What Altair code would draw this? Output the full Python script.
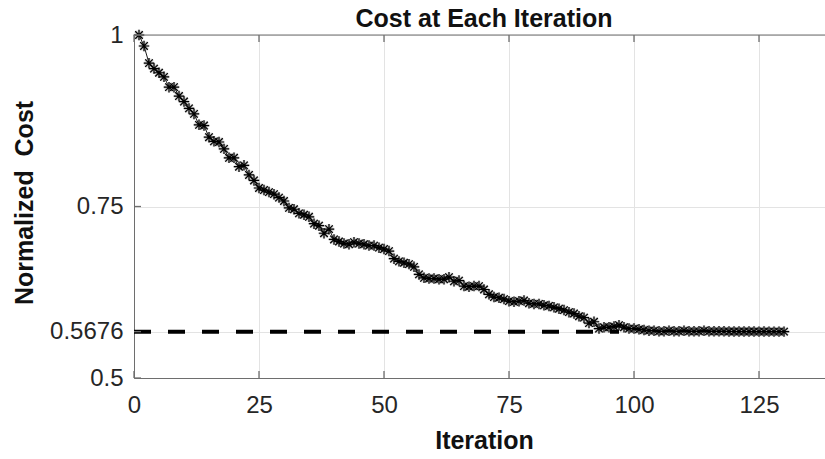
import altair as alt
import pandas as pd

# Normalized cost recorded at every iteration of the optimizer
iterations = list(range(1, 131))
cost = [
    1.000, 0.984, 0.959, 0.951, 0.945, 0.939, 0.924, 0.924, 0.911, 0.903,
    0.893, 0.885, 0.869, 0.868, 0.851, 0.845, 0.844, 0.834, 0.821, 0.821,
    0.808, 0.810, 0.796, 0.788, 0.777, 0.774, 0.771, 0.768, 0.763, 0.758,
    0.748, 0.746, 0.740, 0.738, 0.735, 0.725, 0.722, 0.711, 0.717, 0.702,
    0.699, 0.696, 0.695, 0.698, 0.696, 0.695, 0.693, 0.693, 0.690, 0.688,
    0.685, 0.674, 0.670, 0.668, 0.666, 0.662, 0.651, 0.646, 0.645, 0.645,
    0.644, 0.644, 0.647, 0.641, 0.642, 0.634, 0.633, 0.634, 0.634, 0.629,
    0.622, 0.618, 0.617, 0.615, 0.612, 0.611, 0.612, 0.613, 0.609, 0.608,
    0.608, 0.606, 0.605, 0.603, 0.601, 0.599, 0.596, 0.594, 0.590, 0.588,
    0.580, 0.582, 0.572, 0.574, 0.574, 0.575, 0.577, 0.574, 0.572, 0.572,
    0.571, 0.570, 0.569, 0.569, 0.568, 0.568, 0.569, 0.568, 0.568, 0.569,
    0.568, 0.568, 0.568, 0.569, 0.568, 0.568, 0.568, 0.568, 0.5678, 0.5678,
    0.5677, 0.5678, 0.5677, 0.5677, 0.5676, 0.5677, 0.5676, 0.5676, 0.5676, 0.5676,
]

# Final (best) cost reference line
best_cost = 0.5676
best_line_start = 0
best_line_end = 97

x_ticks = [0, 25, 50, 75, 100, 125]
y_ticks = [0.5, 0.5676, 0.75, 1.0]

chart_title = "Cost at Each Iteration"

FONT = "Liberation Sans"
AXIS_GRAY = "#6e6e6e"
GRID_GRAY = "#e3e3e3"
PLOT_W, PLOT_H = 691, 343

df = pd.DataFrame({"iteration": iterations, "cost": cost})
best_df = pd.DataFrame({"iteration": [best_line_start], "x1": [best_line_end], "cost": [best_cost]})
xt_df = pd.DataFrame({"iteration": x_ticks})
yt_df = pd.DataFrame({"cost": y_ticks})
title_df = pd.DataFrame({"label": [chart_title]})

x_scale = alt.Scale(domain=[0, 138.2], nice=False, zero=False)
y_scale = alt.Scale(domain=[0.5, 1.0], nice=False, zero=False)

# asterisk marker: plus overlaid with a cross
ASTERISK = "M0,-1L0,1M-1,0L1,0M-0.72,-0.72L0.72,0.72M-0.72,0.72L0.72,-0.72"

x_axis = alt.Axis(
    values=x_ticks, grid=True, gridColor=GRID_GRAY, tickSize=0,
    domainColor=AXIS_GRAY, labelFont=FONT, labelFontSize=24, labelColor="#262626",
    labelPadding=15, labelFlush=False,
    title="Iteration", titleFont=FONT, titleFontSize=25, titleFontWeight="bold",
    titleColor="#111111", titleX=350, titleY=70.5, titleBaseline="alphabetic",
    titleAnchor="middle",
)
y_axis = alt.Axis(
    values=y_ticks, grid=True, gridColor=GRID_GRAY, tickSize=0,
    domainColor=AXIS_GRAY, labelFont=FONT, labelFontSize=24, labelColor="#262626",
    labelPadding=11, labelExpr="'' + datum.value", labelFlush=False,
    title="Normalized\u00a0 Cost", titleFont=FONT, titleFontSize=25,
    titleFontWeight="bold", titleColor="#111111", titleX=-102, titleY=167.5,
    titleBaseline="alphabetic", titleAngle=270, titleAnchor="middle",
)

X = alt.X("iteration:Q", scale=x_scale, axis=x_axis)
Y = alt.Y("cost:Q", scale=y_scale, axis=y_axis)

base = alt.Chart(df)

halo = base.mark_point(
    shape=ASTERISK, filled=False, stroke="#9a9a9a", strokeWidth=2.6,
    opacity=0.55, size=110,
).encode(x=X, y=Y)

line = base.mark_line(color="black", strokeWidth=0.9).encode(x=X, y=Y)

points = base.mark_point(
    shape=ASTERISK, filled=False, stroke="black", strokeWidth=1.2, size=110, opacity=1,
).encode(x=X, y=Y)

best = alt.Chart(best_df).mark_rule(
    color="black", strokeWidth=4, strokeDash=[17, 17]
).encode(x=X, x2="x1:Q", y=Y)

# top edge of the axes box (the right edge runs past the figure border)
top_edge = alt.Chart(title_df).mark_rule(color=AXIS_GRAY, strokeWidth=1).encode(
    x=alt.value(0), x2=alt.value(PLOT_W), y=alt.value(0),
)

# inward-pointing tick marks on all visible sides of the box
tick_style = dict(color=AXIS_GRAY, strokeWidth=1.3)
x_ticks_bottom = alt.Chart(xt_df).mark_rule(**tick_style).encode(
    x=X, y=alt.value(PLOT_H), y2=alt.value(PLOT_H - 7),
)
x_ticks_top = alt.Chart(xt_df).mark_rule(**tick_style).encode(
    x=X, y=alt.value(0), y2=alt.value(7),
)
y_ticks_left = alt.Chart(yt_df).mark_rule(**tick_style).encode(
    y=Y, x=alt.value(0), x2=alt.value(7),
)

# chart heading, centred over the full axes box
heading = alt.Chart(title_df).mark_text(
    font=FONT, fontSize=25, fontWeight="bold", color="#111111",
    align="center", baseline="alphabetic",
).encode(
    text="label:N", x=alt.value(350), y=alt.value(-8),
)

chart = alt.layer(
    halo, line, points, best, top_edge,
    x_ticks_bottom, x_ticks_top, y_ticks_left, heading,
).properties(
    width=PLOT_W,
    height=PLOT_H,
    autosize=alt.AutoSizeParams(type="none"),
    padding={"left": 134, "top": 35, "right": 0, "bottom": 81},
    background="white",
).configure_view(
    strokeWidth=0,
)

chart.save("out.html", embed_options={"renderer": "svg", "actions": False})
